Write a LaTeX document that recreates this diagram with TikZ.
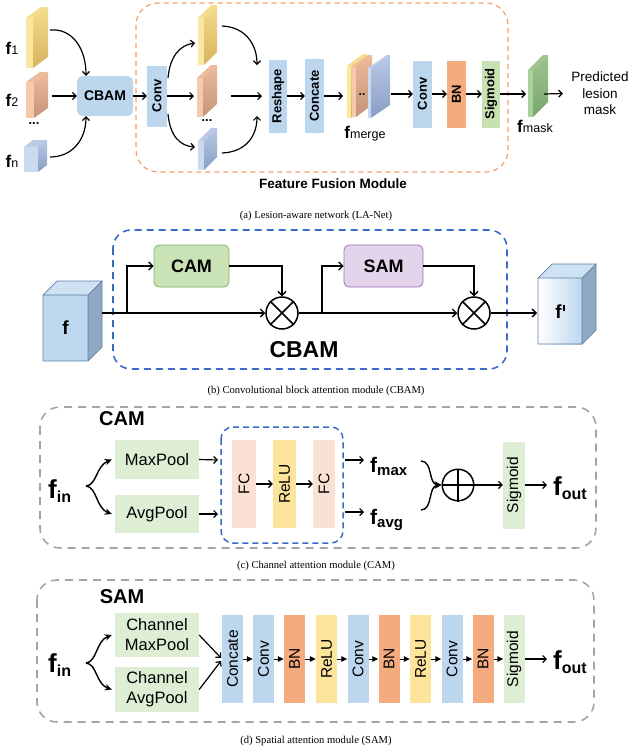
\documentclass[tikz,border=0pt]{standalone}
\usepackage{fontspec}
\setmainfont{Liberation Sans}
\newfontfamily\capfont{Liberation Serif}
\usetikzlibrary{arrows.meta,calc}
\definecolor{cblue}{HTML}{BCD6EE}
\definecolor{corange}{HTML}{F4AC7F}
\definecolor{cgreen}{HTML}{C7E1B3}
\definecolor{lgreen}{HTML}{DDEED4}
\definecolor{cyellow}{HTML}{FDE49B}
\definecolor{cpeach}{HTML}{FBE1D4}
\definecolor{odash}{HTML}{F2A06A}
\definecolor{bdash}{HTML}{3A6BC6}
\definecolor{gdash}{HTML}{A5A5A5}
\definecolor{camfill}{HTML}{C9E3B7}
\definecolor{camdraw}{HTML}{82B366}
\definecolor{samfill}{HTML}{E3D4EC}
\definecolor{samdraw}{HTML}{9B6FBF}
\definecolor{yelA}{HTML}{FCE7A2}\definecolor{yelB}{HTML}{F5DC8C}\definecolor{yelC}{HTML}{D6B460}
\definecolor{oraA}{HTML}{F6C9AB}\definecolor{oraB}{HTML}{EDBB9B}\definecolor{oraC}{HTML}{C4947A}
\definecolor{bluA}{HTML}{CCDAF0}\definecolor{bluB}{HTML}{B9C9E6}\definecolor{bluC}{HTML}{8A9DC4}
\definecolor{grnA}{HTML}{A9D19A}\definecolor{grnB}{HTML}{9CC58C}\definecolor{grnC}{HTML}{7AA56C}
\definecolor{cubefront}{HTML}{BDD7EE}
\definecolor{cubetop}{HTML}{CFE2F3}
\definecolor{cubeside}{HTML}{8FA9C2}
\definecolor{cubeedge}{HTML}{5B7FA6}
% slab: x0, w, ytop, ybot, dx, dy, stripcolor, facetop, facebottom
\newcommand\myslab[9]{%
  \fill[#8] (#1,#3) -- ++(#5,-#6) -- ++(#2,0) -- (#1+#2,#3) -- cycle;
  \fill[#7] (#1,#3) rectangle (#1+#2,#4);
  \shade[top color=#8, bottom color=#9] (#1+#2,#3) -- ++(#5,-#6) -- ++(0,#4-#3) -- (#1+#2,#4) -- cycle;
}
\newcommand\fsm[1]{{\fontsize{17}{17}\selectfont\bfseries f}{\fontsize{12.5}{12.5}\selectfont #1}}
\newcommand\fbg[1]{{\fontsize{26}{26}\selectfont\bfseries f}\raisebox{-4pt}{\fontsize{16}{16}\selectfont\bfseries #1}}
\newcommand\fmd[1]{{\fontsize{21}{21}\selectfont\bfseries f}\raisebox{-3pt}{\fontsize{15}{15}\selectfont\bfseries #1}}
\begin{document}
\begin{tikzpicture}[x=1pt,y=-1pt,
  ar/.style={line width=1.2pt,-{Straight Barb[length=3.5pt,width=7pt]}},
  arb/.style={line width=1.3pt,-{Straight Barb[length=4pt,width=8pt]}},
  tri/.style={line width=1pt,-{Triangle[length=6pt,width=5.5pt]}},
  fk/.style={line width=1.4pt,-{Stealth[length=7pt,width=6.5pt]}},
  vbox/.style 2 args={rotate=90,minimum height=#1,minimum width=#2,inner sep=0pt},
  topb/.style={font=\fontsize{13}{13}\selectfont\bfseries},
  midb/.style={font=\fontsize{15.5}{15.5}\selectfont},
  capst/.style={font=\capfont\fontsize{10.6}{10.6}\selectfont},
  pool/.style={fill=lgreen,minimum width=84pt,inner sep=0pt,font=\fontsize{16.5}{20}\selectfont,align=center},
  xcirc/.style={circle,draw,line width=1.5pt,minimum size=32pt,inner sep=0pt}
]
\useasboundingbox (0,0) rectangle (633,750);

%% ================= (a) =================
\draw[odash,line width=1.2pt,dash pattern=on 5pt off 4pt,rounded corners=22pt] (136,3) rectangle (508,172);
\node[font=\fontsize{13.5}{13.5}\selectfont\bfseries] (ffm) at (333,184) {Feature Fusion Module};

\myslab{26}{7}{18}{68}{15}{11}{yelA}{yelB}{yelC}
\myslab{26}{8}{82}{118}{14}{10}{oraA}{oraB}{oraC}
\myslab{24}{14}{147}{172}{9}{7}{bluA}{bluB}{bluC}
\node (lf1) at (12,48) {\fsm{1}};
\node (lf2) at (12,100) {\fsm{2}};
\node[font=\fontsize{13}{13}\selectfont\bfseries] (ldots) at (34,124) {...};
\node (lfn) at (12,161) {\fsm{n}};

\node[fill=cblue,rounded corners=6pt,minimum width=56pt,minimum height=40pt,inner sep=0pt,font=\fontsize{14}{14}\selectfont\bfseries] (cbam) at (105,96) {CBAM};
\coordinate (s1) at (50,30);
\coordinate (s2) at (52,96);
\coordinate (sn) at (50,157);
\draw[ar] (s1) .. controls (72,28) and (86,48) .. ([xshift=-19pt]cbam.north);
\draw[ar] (s2) -- (cbam.west);
\draw[ar] (sn) .. controls (72,157) and (86,140) .. ([xshift=-19pt]cbam.south);

\node[vbox={20pt}{61pt},fill=cblue,topb] (conv1) at (157,96) {Conv};
\draw[ar] (cbam) -- (conv1);

\myslab{198}{6}{18}{65}{13}{13}{yelA}{yelB}{yelC}
\myslab{197}{6}{78}{117}{14}{13}{oraA}{oraB}{oraC}
\myslab{198}{6}{141}{170}{13}{13}{bluA}{bluB}{bluC}
\node[font=\fontsize{13}{13}\selectfont\bfseries] (ldots2) at (207,121) {...};
\coordinate (c1) at (168,78);
\coordinate (c2) at (195,43);
\coordinate (c3) at (194,96);
\coordinate (c4) at (168,114);
\coordinate (c5) at (195,147);
\draw[ar] (c1) .. controls (170,56) and (180,45) .. (c2);
\draw[ar] (conv1) -- (c3);
\draw[ar] (c4) .. controls (170,136) and (180,146) .. (c5);

\coordinate (d1) at (222,26);
\coordinate (d2) at (257,65);
\coordinate (d3) at (231,96);
\coordinate (d4) at (262,96);
\coordinate (d5) at (222,153);
\coordinate (d6) at (257,116);
\draw[ar] (d1) .. controls (246,27) and (257,45) .. (d2);
\draw[ar] (d3) -- (d4);
\draw[ar] (d5) .. controls (246,152) and (257,136) .. (d6);

\node[vbox={18pt}{73pt},fill=cblue,topb] (resh) at (278,96) {Reshape};
\node[vbox={19pt}{74pt},fill=cblue,topb] (conc) at (314.5,96) {Concate};
\draw[ar] (resh) -- (conc);

% f_merge stack
\myslab{347}{4}{66}{118}{16}{12}{yelA}{yelB}{yelC}
\myslab{352}{4}{67}{117}{16}{12}{oraA}{oraB}{oraC}
\node[font=\fontsize{12}{12}\selectfont\bfseries] (mdots) at (362,95) {..};
\myslab{368}{3}{68}{118}{19}{13}{bluA}{bluB}{bluC}
\node (lmerge) at (365,134) {\fsm{merge}};
\coordinate (m1) at (343,96);
\coordinate (m2) at (391,94);
\draw[ar] (conc) -- (m1);

\node[vbox={19pt}{67pt},fill=cblue,topb] (conv2) at (422.5,94) {Conv};
\node[vbox={19pt}{67pt},fill=corange,topb] (bn) at (456.5,94) {BN};
\node[vbox={18pt}{67pt},fill=cgreen,topb] (sig) at (491,94) {Sigmoid};
\draw[ar] (m2) -- (conv2);
\draw[ar] (conv2) -- (bn);
\draw[ar] (bn) -- (sig);
\coordinate (k1) at (526,94);
\draw[ar] (sig) -- (k1);
\myslab{528}{5}{70}{117}{15}{15}{grnA}{grnB}{grnC}
\node (lmask) at (535,126) {\fsm{mask}};
\node[align=center,font=\fontsize{13.5}{16.5}\selectfont] (pred) at (600,93.5) {Predicted\\lesion\\mask};
\coordinate (k2) at (544,94);
\draw[ar] (k2) -- ([xshift=-5pt]pred.west);

\node[capst] (capa) at (316,216) {(a) Lesion-aware network (LA-Net)};

%% ================= (b) =================
\draw[bdash,line width=1.6pt,dash pattern=on 7pt off 5pt,rounded corners=18pt] (113,230) rectangle (507,369);
% f cube
\fill[cubetop] (43,295) -- (57,281) -- (102,281) -- (88,295) -- cycle;
\fill[cubeside] (88,295) -- (102,281) -- (102,347) -- (88,361) -- cycle;
\fill[cubefront] (43,295) rectangle (88,361);
\draw[cubeedge,line width=0.7pt] (43,295) rectangle (88,361) (43,295) -- (57,281) -- (102,281) -- (88,295) (102,281) -- (102,347) -- (88,361);
\node[font=\fontsize{19}{19}\selectfont\bfseries] (fcube) at (65.5,328) {f};
% f' cube
\fill[cubetop] (538,278) -- (552,264) -- (596,264) -- (582,278) -- cycle;
\fill[cubeside] (582,278) -- (596,264) -- (596,330) -- (582,344) -- cycle;
\shade[left color=white,right color=cubefront] (538,278) rectangle (582,344);
\draw[cubeedge,line width=0.7pt] (538,278) rectangle (582,344) (538,278) -- (552,264) -- (596,264) -- (582,278) (596,264) -- (596,330) -- (582,344);
\node[font=\fontsize{19}{19}\selectfont\bfseries] (fpcube) at (560,312) {f\hspace{1.2pt}\raisebox{7.5pt}{\rule{1.8pt}{6pt}}};

\node[fill=camfill,draw=camdraw,line width=0.8pt,rounded corners=5pt,minimum width=75pt,minimum height=42pt,inner sep=0pt,font=\fontsize{18}{18}\selectfont\bfseries] (cam) at (191.5,266) {CAM};
\node[fill=samfill,draw=samdraw,line width=0.8pt,rounded corners=5pt,minimum width=79pt,minimum height=42pt,inner sep=0pt,font=\fontsize{18}{18}\selectfont\bfseries] (sam) at (383.5,266) {SAM};
\node[xcirc] (x1) at (282,313) {};
\node[xcirc] (x2) at (474,313) {};
\draw[line width=1.5pt] (x1.north east) -- (x1.south west) (x1.north west) -- (x1.south east);
\draw[line width=1.5pt] (x2.north east) -- (x2.south west) (x2.north west) -- (x2.south east);
\coordinate (fo) at (102,313);
\coordinate (br1) at (127,313);
\coordinate (br2) at (322,313);
\coordinate (fpin) at (537,313);
\draw[arb] (fo) -- (x1.west);
\draw[arb] (br1) |- (cam.west);
\draw[arb] (cam.east) -| (x1.north);
\draw[arb] (x1.east) -- (x2.west);
\draw[arb] (br2) |- (sam.west);
\draw[arb] (sam.east) -| (x2.north);
\draw[arb] (x2.east) -- (fpin);
\node[font=\fontsize{23}{23}\selectfont\bfseries] (cbamlab) at (304,350) {CBAM};

\node[capst] (capb) at (316,391) {(b) Convolutional block attention module (CBAM)};

%% ================= (c) =================
\draw[gdash,line width=1.6pt,dash pattern=on 8pt off 6pt,rounded corners=20pt] (40,407) rectangle (596,548);
\node[font=\fontsize{20}{20}\selectfont\bfseries] (camlab) at (122,419) {CAM};
\node[anchor=base west,inner sep=0pt] (fin1) at (48,498) {\fbg{in}};
\node[pool,minimum height=39pt] (mp) at (157,459.5) {MaxPool};
\node[pool,minimum height=38pt] (ap) at (157,514) {AvgPool};
\coordinate (fk1) at (86,486);
\draw[fk] (fk1) .. controls (97,485) and (96,466) .. ([xshift=-3pt]mp.west);
\draw[fk] (fk1) .. controls (97,487) and (96,508) .. ([xshift=-3pt]ap.west);
\draw[bdash,line width=1.5pt,dash pattern=on 6pt off 4pt,rounded corners=12pt] (221,427) rectangle (343,543);
\coordinate (p1) at (218,460);
\coordinate (p2) at (218,514);
\draw[ar] (mp.east) -- (p1);
\draw[ar] (ap.east) -- (p2);
\node[vbox={24pt}{88pt},fill=cpeach,midb] (fc1) at (244,484) {FC};
\node[vbox={23pt}{88pt},fill=cyellow,midb] (relu1) at (284.5,484) {ReLU};
\node[vbox={22pt}{88pt},fill=cpeach,midb] (fc2) at (324,484) {FC};
\draw[ar] (fc1) -- (relu1);
\draw[ar] (relu1) -- (fc2);
\coordinate (q1) at (345,460);
\coordinate (q1e) at (364,460);
\coordinate (q2) at (345,512);
\coordinate (q2e) at (364,512);
\draw[ar] (q1) -- (q1e);
\draw[ar] (q2) -- (q2e);
\node[anchor=base west,inner sep=0pt] (fmax) at (370,472) {\fmd{max}};
\node[anchor=base west,inner sep=0pt] (favg) at (370,524) {\fmd{avg}};
\node[circle,draw,line width=1.5pt,minimum size=31.5pt,inner sep=0pt] (plus) at (458,485) {};
\draw[line width=1.5pt] (plus.north) -- (plus.south) (plus.west) -- (plus.east);
\coordinate (q3) at (421,461);
\coordinate (q4) at (421,510);
\draw[fk] (q3) .. controls (433,461) and (428,484) .. (plus.west);
\draw[fk] (q4) .. controls (433,510) and (428,486) .. (plus.west);
\node[vbox={22pt}{87pt},fill=lgreen,midb] (sigc) at (514,485) {Sigmoid};
\draw[ar] (plus) -- (sigc);
\coordinate (q5) at (547,485);
\draw[ar] (sigc) -- (q5);
\node[anchor=base west,inner sep=0pt] (fout1) at (553,495) {\fbg{out}};

\node[capst] (capc) at (316,566) {(c) Channel attention module (CAM)};

%% ================= (d) =================
\draw[gdash,line width=1.6pt,dash pattern=on 8pt off 6pt,rounded corners=20pt] (37,580) rectangle (594,722);
\node[font=\fontsize{20}{20}\selectfont\bfseries] (samlab) at (122,597) {SAM};
\node[anchor=base west,inner sep=0pt] (fin2) at (48,672) {\fbg{in}};
\node[pool,minimum height=44pt] (cmp) at (157,635) {Channel\\MaxPool};
\node[pool,minimum height=45pt] (cap2) at (157,689.5) {Channel\\AvgPool};
\coordinate (fk2) at (86,663);
\draw[fk] (fk2) .. controls (97,662) and (96,641) .. ([xshift=-3pt]cmp.west);
\draw[fk] (fk2) .. controls (97,664) and (96,684) .. ([xshift=-3pt]cap2.west);
\node[vbox={21pt}{88pt},fill=cblue,midb] (b1) at (232.5,659) {Concate};
\node[vbox={21pt}{88pt},fill=cblue,midb] (b2) at (263.5,659) {Conv};
\node[vbox={21pt}{88pt},fill=corange,midb] (b3) at (294.5,659) {BN};
\node[vbox={21pt}{88pt},fill=cyellow,midb] (b4) at (326.5,659) {ReLU};
\node[vbox={21pt}{88pt},fill=cblue,midb] (b5) at (358,659) {Conv};
\node[vbox={21pt}{88pt},fill=corange,midb] (b6) at (389,659) {BN};
\node[vbox={21pt}{88pt},fill=cyellow,midb] (b7) at (420.5,659) {ReLU};
\node[vbox={21pt}{88pt},fill=cblue,midb] (b8) at (452,659) {Conv};
\node[vbox={21pt}{88pt},fill=corange,midb] (b9) at (483,659) {BN};
\node[vbox={21pt}{88pt},fill=lgreen,midb] (b10) at (514,659) {Sigmoid};
\coordinate (z1) at (221,658);
\coordinate (z2) at (221,661);
\draw[ar] (cmp.east) -- (z1);
\draw[ar] (cap2.east) -- (z2);
\foreach \a/\b in {b1/b2,b2/b3,b3/b4,b4/b5,b5/b6,b6/b7,b7/b8,b8/b9,b9/b10}
  \draw[tri] (\a) -- (\b);
\coordinate (q6) at (547,659);
\draw[ar] (b10) -- (q6);
\node[anchor=base west,inner sep=0pt] (fout2) at (553,669) {\fbg{out}};

\node[capst] (capd) at (316,741) {(d) Spatial attention module (SAM)};
\end{tikzpicture}
\end{document}
